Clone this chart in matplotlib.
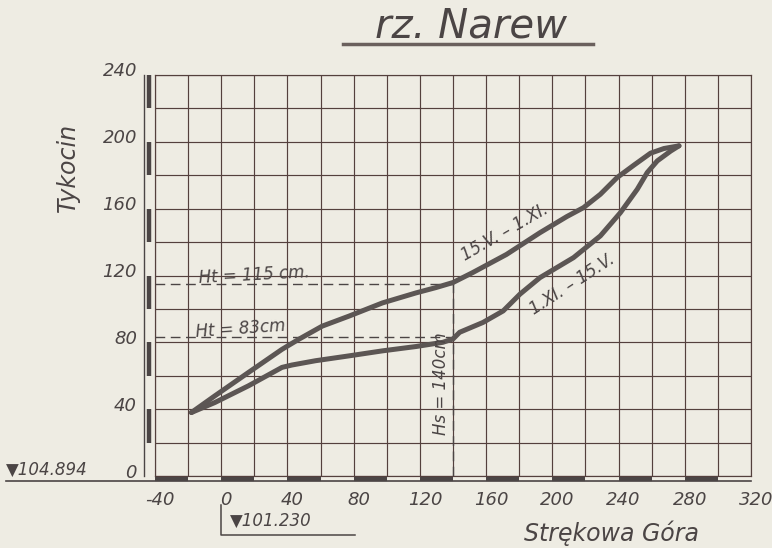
import numpy as np
import matplotlib
matplotlib.use("Agg")
import matplotlib.pyplot as plt
import matplotlib.transforms as mtransforms

plt.rcParams["axes.unicode_minus"] = False

# upper branch: 15.V. - 1.XI.
upper_x = [-18, -3.8, 16.5, 36.7, 46.8, 61, 77.2, 97.4, 117.7, 129.8, 140, 152,
           172.3, 192.5, 208.8, 218.8, 229, 239.1, 249.2, 259.3, 267.4, 276.5]
upper_y = [38.0, 48.0, 62.0, 75.8, 81.8, 89.7, 95.7, 103.6, 109.6, 112.8, 115.8, 121.8,
           132.6, 145.6, 155.3, 160.6, 168.6, 178.6, 186.0, 193.2, 196.0, 197.6]

# lower branch: 1.XI. - 15.V.
lower_x = [-18, -3.8, 16.5, 36.7, 42.6, 57, 77.2, 97.4, 117.7, 133.8, 140, 144,
           158.1, 170.3, 180.4, 192.5, 212.8, 229, 241.1, 251.3, 257.3, 263.4, 271.5, 276.5]
lower_y = [38.0, 44.0, 54.0, 65.0, 66.4, 69.0, 71.9, 74.9, 77.5, 80.0, 82.0, 86.0,
           91.9, 98.8, 108.8, 118.7, 130.7, 143.7, 157.6, 171.6, 181.6, 188.6, 194.5, 197.6]

x_ticks = [-40, 0, 40, 80, 120, 160, 200, 240, 280, 320]
y_ticks = [0, 40, 80, 120, 160, 200, 240]

hs = 140
ht_high = 115
ht_low = 83

bg = "#eeece3"
ink = "#4b4545"
grid_col = "#54403d"
curve_col = "#5c5654"

fig = plt.figure(figsize=(7.72, 5.48), dpi=100, facecolor=bg)
ax = fig.add_axes([155 / 772, 1 - 476 / 548, (751 - 155) / 772, (476 - 75) / 548])
ax.set_facecolor(bg)
ax.set_xlim(-40, 320)
ax.set_ylim(0, 240)

ax.set_xticks(x_ticks)
ax.set_yticks(y_ticks)
ax.set_xticks(np.arange(-40, 321, 20), minor=True)
ax.set_yticks(np.arange(0, 241, 20), minor=True)
ax.grid(True, which="both", color=grid_col, linewidth=0.85)
ax.tick_params(which="both", length=0)
ax.tick_params(axis="x", pad=11, labelsize=13, labelcolor=ink)
ax.tick_params(axis="y", pad=13, labelsize=13, labelcolor=ink)
for lab in ax.get_xticklabels() + ax.get_yticklabels():
    lab.set_fontstyle("italic")
for lab in ax.get_xticklabels():
    lab.set_transform(lab.get_transform() + mtransforms.ScaledTranslation(0.05, 0, fig.dpi_scale_trans))
for lab in ax.get_yticklabels():
    lab.set_transform(lab.get_transform() + mtransforms.ScaledTranslation(0, 0.055, fig.dpi_scale_trans))
for s in ax.spines.values():
    s.set_color(grid_col)
    s.set_linewidth(0.85)

# curves
ax.plot(upper_x, upper_y, color=curve_col, linewidth=3.6, solid_capstyle="round",
        solid_joinstyle="round", zorder=5)
ax.plot(lower_x, lower_y, color=curve_col, linewidth=3.6, solid_capstyle="round",
        solid_joinstyle="round", zorder=5)

# dashed reference lines
ax.plot([-40, hs], [ht_high, ht_high], color=ink, linewidth=1, dashes=(7, 4), zorder=4)
ax.plot([-40, hs], [ht_low, ht_low], color=ink, linewidth=1, dashes=(7, 4), zorder=4)
ax.plot([hs, hs], [0, 119], color=ink, linewidth=1, dashes=(7, 4), zorder=4)

# scale bars along the axes
ax.plot([-130, 320], [-3.0, -3.0], color=ink, linewidth=1.2, clip_on=False, zorder=6)
for x0 in range(-40, 300, 40):
    ax.plot([x0, x0 + 20], [-1.5, -1.5], color=ink, linewidth=3.0, clip_on=False,
            solid_capstyle="butt", zorder=6)
ax.plot([-46.5, -46.5], [0, 240], color=ink, linewidth=1, clip_on=False, zorder=6)
for y0 in range(20, 240, 40):
    ax.plot([-43.8, -43.8], [y0, y0 + 20], color=ink, linewidth=3.2, clip_on=False,
            solid_capstyle="butt", zorder=6)

# annotations
ax.text(-14, 120, "Ht = 115 cm.", fontsize=12, style="italic", color=ink,
        rotation=3, va="center", ha="left", zorder=7)
ax.text(-16, 88, "Ht = 83cm", fontsize=12, style="italic", color=ink,
        rotation=4, va="center", ha="left", zorder=7)
ax.text(132.5, 55, "Hs = 140cm", fontsize=12, style="italic", color=ink,
        rotation=90, va="center", ha="center", zorder=7)
ax.text(171, 146, "15.V. – 1.XI.", fontsize=12, style="italic", color=ink,
        rotation=30, va="center", ha="center", zorder=7)
ax.text(212, 115, "1.XI. – 15.V.", fontsize=12, style="italic", color=ink,
        rotation=33, va="center", ha="center", zorder=7)

# title
fig.text(471 / 772, 1 - 38 / 548, "rz. Narew", fontsize=29, style="italic",
         color=ink, ha="center", va="baseline")
fig.add_artist(plt.Line2D([343 / 772, 593 / 772], [1 - 44 / 548, 1 - 44 / 548],
                          color="#6a605d", linewidth=2.5))

fig.text(68 / 772, 1 - 167 / 548, "Tykocin", fontsize=17, style="italic",
         color=ink, rotation=90, ha="center", va="center")
fig.text(611 / 772, 1 - 533 / 548, "Strękowa Góra", fontsize=17, style="italic",
         color=ink, ha="center", va="center")

# benchmarks
fig.text(6 / 772, 1 - 470 / 548, "▼104.894", fontsize=12, style="italic",
         color=ink, ha="left", va="center")
fig.text(230 / 772, 1 - 521 / 548, "▼101.230", fontsize=12, style="italic",
         color=ink, ha="left", va="center")
fig.add_artist(plt.Line2D([221 / 772, 221 / 772, 355 / 772],
                          [1 - 505 / 548, 1 - 535 / 548, 1 - 535 / 548],
                          color=ink, linewidth=1.1))

fig.savefig("out.png", dpi=100, facecolor=bg)
